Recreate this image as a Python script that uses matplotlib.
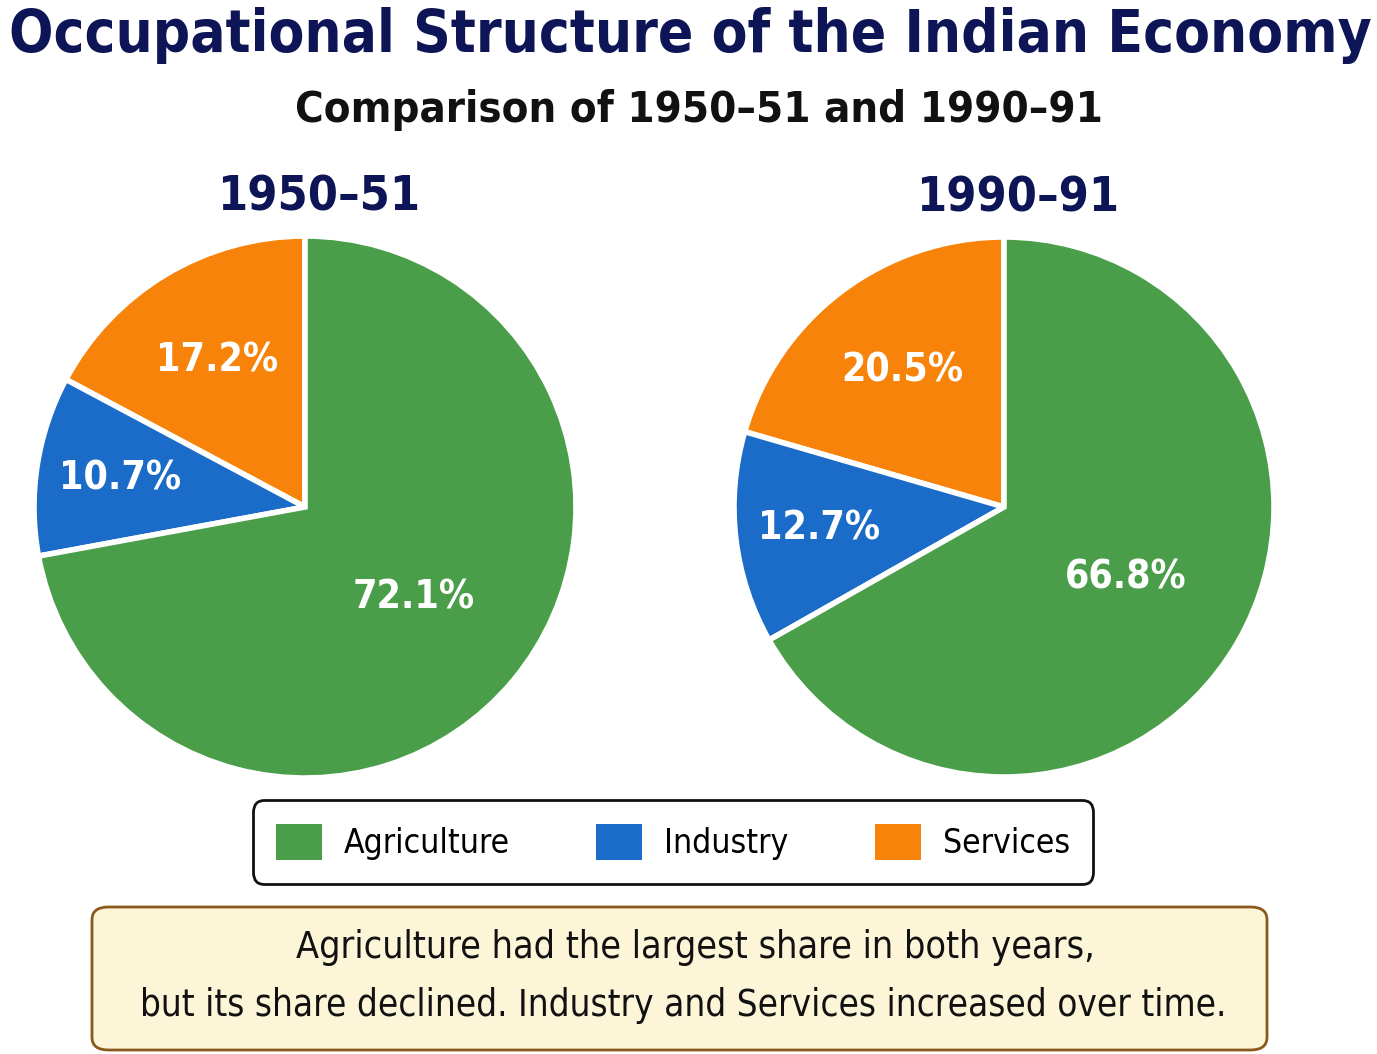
import matplotlib
matplotlib.use("Agg")
import numpy as np
import matplotlib.pyplot as plt
from matplotlib.patches import FancyBboxPatch, Patch

# ---------------- Data -----------------
categories = ["Services", "Industry", "Agriculture"]
share_1950 = [17.2, 10.7, 72.1]
share_1990 = [20.5, 12.7, 66.8]
years = ["1950\u201351", "1990\u201391"]
legend_order = ["Agriculture", "Industry", "Services"]

colors = {"Agriculture": "#4a9e49", "Industry": "#1a6cc8", "Services": "#f8830a"}
label_dist = {"Agriculture": 0.52, "Industry": 0.69, "Services": 0.63}

NAVY = "#0e1556"
plt.rcParams['font.family'] = ['DejaVu Sans']
plt.rcParams['font.stretch'] = 'condensed'

W, H = 1377, 1054
fig = plt.figure(figsize=(W / 100, H / 100), dpi=100)
fig.patch.set_facecolor("white")
renderer = fig.canvas.get_renderer()


def fit(t, width_px):
    # shrink / grow a text so it spans the same width as in the reference
    w = t.get_window_extent(renderer).width
    t.set_fontsize(t.get_fontsize() * width_px / w)
    return t


def px_axes(cx, cy, r):
    return fig.add_axes([(cx - r) / W, 1 - (cy + r) / H, 2 * r / W, 2 * r / H])


def draw_pie(ax, values, year):
    wedges, _ = ax.pie(values, colors=[colors[c] for c in categories],
                       startangle=90, counterclock=True,
                       wedgeprops=dict(edgecolor="white", linewidth=4))
    for w in wedges:
        w.set_clip_on(False)
    ax.set_xlim(-1, 1)
    ax.set_ylim(-1, 1)
    ax.set_aspect("equal")
    for w, cat, v in zip(wedges, categories, values):
        mid = np.radians((w.theta1 + w.theta2) / 2)
        d = label_dist[cat]
        t = ax.text(d * np.cos(mid), d * np.sin(mid), f"{v:.1f}%", ha="center", va="center",
                    color="white", fontsize=30, fontweight="bold")
        fit(t, 122)
    t = ax.text(0.05, 1.145, year, ha="center", va="center", fontsize=35,
                fontweight="bold", color=NAVY)
    fit(t, 203)
    return wedges


ax1 = px_axes(305, 507, 271)
draw_pie(ax1, share_1950, years[0])
ax2 = px_axes(1004, 507, 270)
draw_pie(ax2, share_1990, years[1])

# ---------------- Titles -----------------
t = fig.text(690 / W, 1 - 36 / H, "Occupational Structure of the Indian Economy", ha="center", va="center",
             fontsize=54, fontweight="bold", color=NAVY)
fit(t, 1362)
t = fig.text(699 / W, 1 - 110 / H, "Comparison of 1950\u201351 and 1990\u201391", ha="center", va="center",
             fontsize=40, fontweight="bold", color="#111111")
fit(t, 806)

# ---------------- Legend -----------------
probe = fig.text(0, 0, "Agriculture", fontsize=26)
fit(probe, 166)
lfs = probe.get_fontsize()
probe.remove()
fpx = lfs * 100 / 72
leg = fig.legend([Patch(facecolor=colors[c], edgecolor="none") for c in legend_order], legend_order,
                 loc="center", bbox_to_anchor=(673 / W, 1 - 842 / H), ncol=3,
                 fontsize=lfs, frameon=True, fancybox=True, edgecolor="#111111", framealpha=1,
                 handlelength=46 / fpx, handleheight=43 / fpx, handletextpad=22 / fpx,
                 columnspacing=86 / fpx, borderpad=0.45, borderaxespad=0)
leg.get_frame().set_linewidth(2)
leg.get_frame().set_boxstyle("round", pad=0.25, rounding_size=0.35)

# ---------------- Footer note -----------------
box = FancyBboxPatch((92 / W, 1 - 1050 / H), (1267 - 92) / W, (1050 - 907) / H,
                     boxstyle="round,pad=0,rounding_size=0.012", transform=fig.transFigure,
                     facecolor="#fdf5d8", edgecolor="#8a5a1c", linewidth=2)
fig.patches.append(box)
t = fig.text(695 / W, 1 - 948 / H, "Agriculture had the largest share in both years,", ha="center", va="center",
             fontsize=27, color="#111111")
fit(t, 798)
t = fig.text(683 / W, 1 - 1005 / H, "but its share declined. Industry and Services increased over time.",
             ha="center", va="center", fontsize=27, color="#111111")
fit(t, 1084)

fig.savefig("out.png", dpi=100)
